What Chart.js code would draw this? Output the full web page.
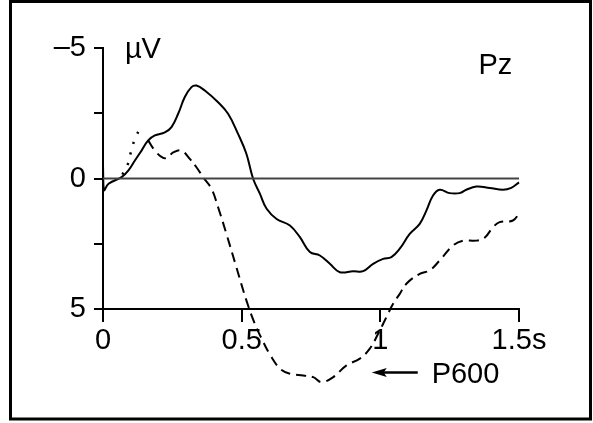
<!DOCTYPE html>
<html>
<head>
<meta charset="utf-8">
<script src="https://cdn.jsdelivr.net/npm/chart.js@4.4.1/dist/chart.umd.min.js"></script>
<style>
  body { margin: 0; background: #fff; }
  #wrap { position: relative; width: 593px; height: 423px; }
</style>
</head>
<body>
<div id="wrap"><canvas id="erp" width="593" height="423"></canvas></div>
<script>
// time in s, amplitude in microvolt (negative up)
var solidT = [0, 0.003, 0.02, 0.067, 0.091, 0.115, 0.139, 0.163, 0.187, 0.223, 0.247, 0.271, 0.295, 0.319, 0.337, 0.367, 0.415, 0.451, 0.487, 0.517, 0.541, 0.566, 0.59, 0.626, 0.674, 0.71, 0.746, 0.782, 0.818, 0.854, 0.902, 0.938, 0.974, 1.01, 1.04, 1.07, 1.106, 1.142, 1.166, 1.19, 1.214, 1.25, 1.286, 1.31, 1.346, 1.394, 1.442, 1.472, 1.5];
var solidV = [-0.5, 0.45, 0.2, -0.05, -0.3, -0.69, -1.07, -1.46, -1.65, -1.77, -1.97, -2.48, -3.12, -3.5, -3.56, -3.37, -2.92, -2.48, -1.71, -0.95, 0.0, 0.59, 1.16, 1.55, 1.8, 2.25, 2.82, 2.95, 3.27, 3.59, 3.55, 3.55, 3.27, 3.08, 3.01, 2.69, 2.12, 1.74, 1.23, 0.65, 0.43, 0.56, 0.56, 0.43, 0.31, 0.36, 0.43, 0.36, 0.15];

var dashT = [0.163, 0.187, 0.217, 0.235, 0.253, 0.283, 0.313, 0.337, 0.361, 0.391, 0.415, 0.445, 0.481, 0.517, 0.545, 0.575, 0.605, 0.64, 0.674, 0.722, 0.758, 0.788, 0.83, 0.878, 0.926, 0.962, 0.992, 1.022, 1.046, 1.07, 1.094, 1.142, 1.178, 1.214, 1.262, 1.298, 1.346, 1.376, 1.406, 1.43, 1.478, 1.5];
var dashV = [-1.46, -1.07, -0.79, -0.82, -1.0, -1.07, -0.75, -0.43, -0.05, 0.39, 1.1, 2.12, 3.4, 4.67, 5.5, 6.2, 6.8, 7.3, 7.48, 7.55, 7.61, 7.8, 7.61, 7.16, 6.9, 6.52, 5.95, 5.31, 4.8, 4.42, 4.03, 3.65, 3.52, 3.14, 2.57, 2.38, 2.38, 2.27, 1.87, 1.67, 1.61, 1.35];

var dotT = [0.07, 0.091, 0.101, 0.113, 0.131, 0.137];
var dotV = [-0.15, -0.59, -1.03, -1.46, -1.87, -1.95];

var zeroT = [0, 1.5];
var zeroV = [0, 0];

var xTickValues = [0, 0.5, 1, 1.5];
var xTickLabels = ['0', '0.5', '1', '1.5s'];
var yTickValues = [-5, -2.5, 0, 2.5, 5];
var yTickLabels = ['\u20135', '', '0', '', '5'];

function pts(t, v) {
    var out = [];
    for (var i = 0; i < t.length; i++) out.push({x: t[i], y: v[i]});
    return out;
}

var FONT = '"Liberation Sans", Arial, sans-serif';

var extras = {
    id: 'extras',
    afterDraw: function (chart) {
        var c = chart.ctx, xs = chart.scales.x, ys = chart.scales.y;
        c.save();
        // frame
        c.strokeStyle = '#000';
        c.lineWidth = 3;
        c.strokeRect(10.5, 1.5, 580, 417.5);
        // labels
        c.fillStyle = '#000';
        c.font = '29px ' + FONT;
        c.textAlign = 'left';
        c.textBaseline = 'alphabetic';
        c.fillText('\u00b5V', xs.getPixelForValue(0.079), ys.getPixelForValue(-4.6));
        c.fillText('Pz', xs.getPixelForValue(1.354), ys.getPixelForValue(-4.02));
        c.fillText('P600', xs.getPixelForValue(1.185), ys.getPixelForValue(7.82));
        // arrow
        var ax0 = xs.getPixelForValue(0.969), ax1 = xs.getPixelForValue(1.135), ay = ys.getPixelForValue(7.43);
        c.lineWidth = 2.5;
        c.beginPath();
        c.moveTo(ax0 + 10, ay);
        c.lineTo(ax1, ay);
        c.stroke();
        c.beginPath();
        c.moveTo(ax0, ay);
        c.lineTo(ax0 + 15, ay - 4.5);
        c.lineTo(ax0 + 12, ay);
        c.lineTo(ax0 + 15, ay + 4.5);
        c.closePath();
        c.fill();
        c.restore();
    }
};

new Chart(document.getElementById('erp').getContext('2d'), {
    type: 'line',
    data: {
        datasets: [{
            data: pts(zeroT, zeroV),
            borderColor: '#444',
            borderWidth: 2,
            pointRadius: 0,
            tension: 0
        }, {
            data: pts(solidT, solidV),
            borderColor: '#000',
            borderWidth: 2,
            pointRadius: 0,
            tension: 0.4,
            clip: false
        }, {
            data: pts(dashT, dashV),
            borderColor: '#000',
            borderWidth: 2,
            borderDash: [10, 6],
            pointRadius: 0,
            tension: 0.4,
            clip: false
        }, {
            data: pts(dotT, dotV),
            borderColor: '#000',
            borderWidth: 2.5,
            borderDash: [2, 9],
            pointRadius: 0,
            tension: 0.4,
            clip: false
        }]
    },
    options: {
        responsive: false,
        animation: false,
        layout: { padding: { top: 48, right: 74, left: 0, bottom: 0 } },
        plugins: { legend: { display: false }, tooltip: { enabled: false } },
        scales: {
            x: {
                type: 'linear',
                min: 0,
                max: 1.5,
                afterFit: function (s) { s.height = 114; },
                afterBuildTicks: function (s) { s.ticks = xTickValues.map(function (v) { return {value: v}; }); },
                grid: { drawOnChartArea: false, drawTicks: true, tickLength: 13, color: '#000', lineWidth: 2 },
                border: { display: true, color: '#000', width: 2 },
                ticks: {
                    padding: 2,
                    maxRotation: 0,
                    autoSkip: false,
                    color: '#000',
                    font: { family: FONT, size: 29 },
                    callback: function (v, i) { return xTickLabels[i]; }
                }
            },
            y: {
                type: 'linear',
                reverse: true,
                min: -5,
                max: 5,
                afterFit: function (s) { s.width = 103; },
                afterBuildTicks: function (s) { s.ticks = yTickValues.map(function (v) { return {value: v}; }); },
                grid: { drawOnChartArea: false, drawTicks: true, tickLength: 9, color: '#000', lineWidth: 2 },
                border: { display: true, color: '#000', width: 2 },
                ticks: {
                    padding: 8,
                    autoSkip: false,
                    color: '#000',
                    font: { family: FONT, size: 29 },
                    callback: function (v, i) { return yTickLabels[i]; }
                }
            }
        }
    },
    plugins: [extras]
});
</script>
</body>
</html>
